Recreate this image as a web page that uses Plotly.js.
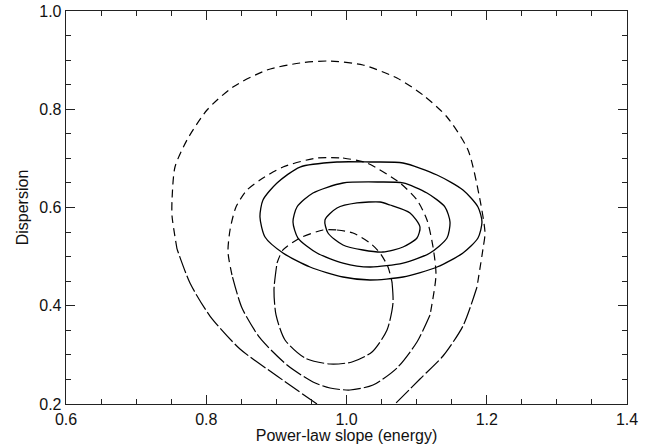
<!DOCTYPE html>
<html>
<head>
<meta charset="utf-8">
<script src="https://cdn.plot.ly/plotly-3.0.1.min.js"></script>
<style>html,body{margin:0;padding:0;background:#fff;}#chart{width:655px;height:446px;}</style>
</head>
<body>
<div id="chart"></div>
<script>
// Solid contours (closed)
const solidOuterX = [0.9865, 1.0335, 1.0806, 1.1291, 1.1661, 1.1875, 1.1932, 1.1875, 1.1661, 1.1291, 1.0806, 1.0335, 0.9950, 0.9480, 0.9094, 0.8838, 0.8766, 0.8809, 0.9009, 0.9337, 0.9865];
const solidOuterY = [0.6926, 0.6926, 0.6906, 0.6662, 0.6356, 0.6010, 0.5705, 0.5379, 0.5074, 0.4789, 0.4585, 0.4524, 0.4585, 0.4789, 0.5074, 0.5399, 0.5807, 0.6153, 0.6499, 0.6824, 0.6926];
const solidMidX = [0.9950, 1.0478, 1.0806, 1.1148, 1.1405, 1.1476, 1.1433, 1.1191, 1.0806, 1.0335, 0.9950, 0.9579, 0.9308, 0.9237, 0.9294, 0.9522, 0.9950];
const solidMidY = [0.6499, 0.6519, 0.6499, 0.6295, 0.6010, 0.5705, 0.5379, 0.5074, 0.4870, 0.4789, 0.4870, 0.5074, 0.5379, 0.5705, 0.6010, 0.6295, 0.6499];
const solidInnerX = [1.0150, 1.0478, 1.0620, 1.0906, 1.1048, 1.1005, 1.0806, 1.0520, 1.0235, 0.9950, 0.9736, 0.9693, 0.9865, 1.0150];
const solidInnerY = [0.6092, 0.6112, 0.6051, 0.5888, 0.5603, 0.5379, 0.5196, 0.5094, 0.5135, 0.5237, 0.5481, 0.5746, 0.5990, 0.6092];

// Dashed contours
const dashOuterX = [0.9579, 0.9009, 0.8481, 0.8053, 0.7768, 0.7583, 0.7512, 0.7512, 0.7554, 0.7725, 0.8011, 0.8381, 0.8866, 0.9337, 0.9765, 1.0235, 1.0720, 1.1091, 1.1433, 1.1733, 1.1904, 1.1975, 1.1946, 1.1861, 1.1661, 1.1376, 1.1048, 1.0692];
const dashOuterY = [0.2000, 0.2570, 0.3120, 0.3791, 0.4463, 0.5155, 0.5827, 0.6153, 0.6824, 0.7374, 0.7985, 0.8453, 0.8799, 0.8941, 0.8982, 0.8901, 0.8636, 0.8290, 0.7842, 0.7170, 0.6153, 0.5481, 0.5155, 0.4382, 0.3588, 0.2977, 0.2509, 0.2000];
const dashMidX = [0.9950, 1.0292, 1.0763, 1.1005, 1.1148, 1.1234, 1.1276, 1.1191, 1.1005, 1.0720, 1.0378, 1.0050, 0.9765, 0.9522, 0.9152, 0.8766, 0.8510, 0.8367, 0.8310, 0.8339, 0.8424, 0.8581, 0.8766, 0.9094, 0.9579, 0.9950];
const dashMidY = [0.7008, 0.6906, 0.6499, 0.6153, 0.5746, 0.5196, 0.4626, 0.3812, 0.3262, 0.2733, 0.2387, 0.2285, 0.2326, 0.2448, 0.2794, 0.3344, 0.3954, 0.4626, 0.5094, 0.5542, 0.6010, 0.6356, 0.6560, 0.6824, 0.7008, 0.7008];
const dashInnerX = [0.9865, 1.0093, 1.0335, 1.0478, 1.0592, 1.0649, 1.0663, 1.0578, 1.0364, 1.0078, 0.9765, 0.9408, 0.9123, 0.8995, 0.8966, 0.9009, 0.9094, 0.9337, 0.9665, 0.9865];
const dashInnerY = [0.5542, 0.5481, 0.5277, 0.5074, 0.4789, 0.4483, 0.4056, 0.3506, 0.3059, 0.2855, 0.2814, 0.2936, 0.3303, 0.3812, 0.4321, 0.4870, 0.5135, 0.5379, 0.5542, 0.5542];

const xTickVals = [0.6, 0.8, 1.0, 1.2, 1.4];
const xTickText = ['0.6', '0.8', '1.0', '1.2', '1.4'];
const yTickVals = [0.2, 0.4, 0.6, 0.8, 1.0];
const yTickText = ['0.2', '0.4', '0.6', '0.8', '1.0'];

function solidTrace(x, y) {
  return {x: x, y: y, mode: 'lines', type: 'scatter', line: {color: '#000', width: 1.3, shape: 'spline', smoothing: 0.7}, hoverinfo: 'skip', showlegend: false};
}
function dashTraces(x, y, thr) {
  // split into runs: upper part short dashes, lower part long dashes
  const out = [];
  let cur = {x: [x[0]], y: [y[0]], low: y[0] < thr};
  for (let i = 1; i < x.length; i++) {
    const low = y[i] < thr;
    cur.x.push(x[i]); cur.y.push(y[i]);
    if (low !== cur.low) {
      out.push(cur);
      cur = {x: [x[i]], y: [y[i]], low: low};
    }
  }
  out.push(cur);
  return out.filter(s => s.x.length > 1).map(s => ({
    x: s.x, y: s.y, mode: 'lines', type: 'scatter', hoverinfo: 'skip', showlegend: false,
    line: {color: '#000', width: 1.2, dash: s.low ? '18px,3px' : '8px,5px', shape: 'spline', smoothing: 0.7}
  }));
}

const traces = [
  solidTrace(solidOuterX, solidOuterY),
  solidTrace(solidMidX, solidMidY),
  solidTrace(solidInnerX, solidInnerY),
  ...dashTraces(dashOuterX, dashOuterY, 0.45),
  ...dashTraces(dashMidX, dashMidY, 0.45),
  ...dashTraces(dashInnerX, dashInnerY, 0.45)
];

const fontFam = 'Liberation Sans, Arial, sans-serif';
const axisCommon = {
  showgrid: false, zeroline: false, showline: true, linecolor: '#222', linewidth: 1.3,
  mirror: 'ticks', ticks: 'inside', ticklen: 9, tickwidth: 1, tickcolor: '#222',
  tickfont: {family: fontFam, size: 16, color: '#111'},
  minor: {ticks: 'inside', ticklen: 5, tickwidth: 1, tickcolor: '#222', dtick: 0.05}
};

const layout = {
  width: 655, height: 446,
  margin: {l: 66, r: 28, t: 11, b: 42},
  paper_bgcolor: '#fff', plot_bgcolor: '#fff',
  xaxis: Object.assign({}, axisCommon, {
    range: [0.6, 1.4], tickvals: xTickVals, ticktext: xTickText,
    title: {text: 'Power-law slope (energy)', font: {family: fontFam, size: 16, color: '#111'}, standoff: 2}
  }),
  yaxis: Object.assign({}, axisCommon, {
    range: [0.2, 1.0], tickvals: yTickVals, ticktext: yTickText,
    title: {text: 'Dispersion', font: {family: fontFam, size: 16, color: '#111'}, standoff: 6}
  })
};

Plotly.newPlot('chart', traces, layout, {displayModeBar: false, staticPlot: true});
</script>
</body>
</html>
